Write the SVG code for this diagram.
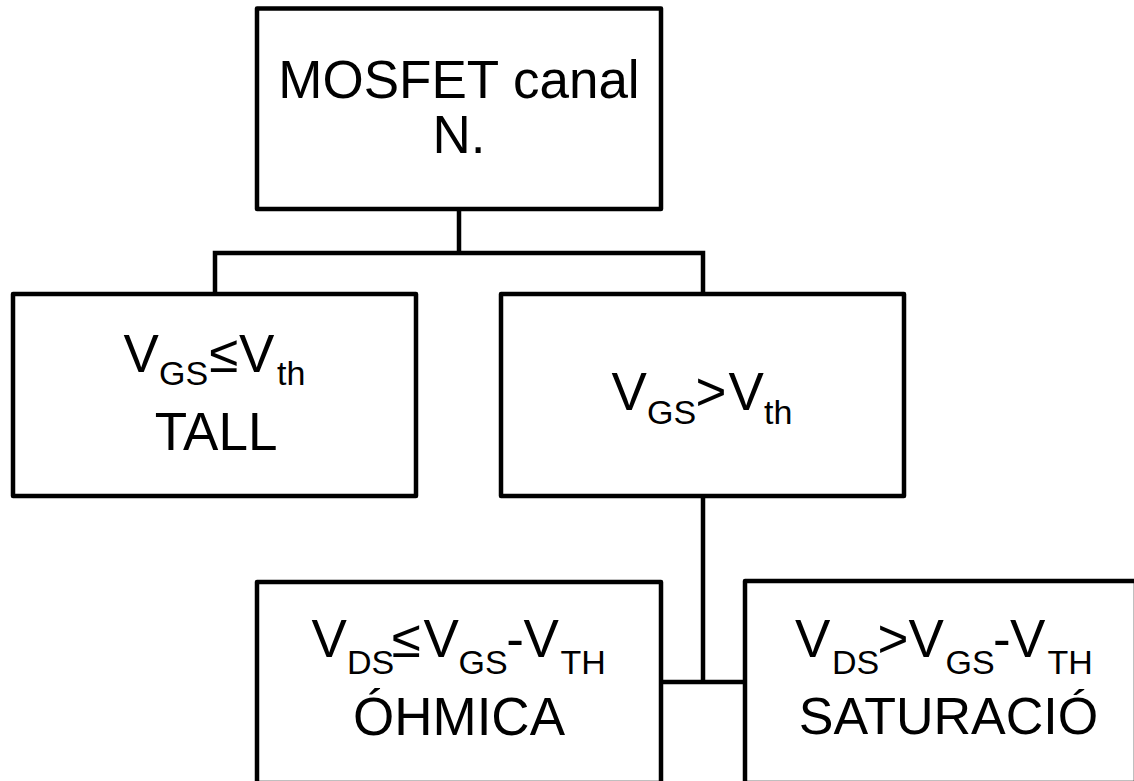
<svg xmlns="http://www.w3.org/2000/svg" width="1134" height="781" viewBox="0 0 1134 781">
<style>
.box{fill:#fff;stroke:#000;stroke-width:4.5;stroke-linejoin:round}
.ln{fill:none;stroke:#000;stroke-width:4.5}
.t{font-family:"Liberation Sans",Arial,sans-serif;font-size:53px;fill:#000}
.s{font-size:34px}
</style>
<rect width="1134" height="781" fill="#fff"/>
<g id="connectors">
<path class="ln" d="M459 211V253"/>
<path class="ln" d="M215 294V253H703V294"/>
<path class="ln" d="M703 496V682"/>
<path class="ln" d="M661 682H745"/>
</g>
<g id="n-mosfet">
<rect class="box" x="257" y="8.5" width="404" height="200.5"/>
<text class="t" text-anchor="middle"><tspan x="459" y="97.5">MOSFET canal</tspan><tspan x="459" y="153">N.</tspan></text>
</g>
<g id="n-tall">
<rect class="box" x="13" y="294" width="403" height="202"/>
<text class="t"><tspan x="123.5" y="372">V</tspan><tspan class="s" x="159" y="384.5">GS</tspan><tspan x="209" y="372">≤</tspan><tspan x="239" y="372">V</tspan><tspan class="s" x="277" y="384.5">th</tspan></text>
<text class="t" text-anchor="middle" x="216" y="449.5">TALL</text>
</g>
<g id="n-on">
<rect class="box" x="501" y="294" width="403" height="202"/>
<text class="t"><tspan x="611.5" y="410">V</tspan><tspan class="s" x="647" y="423.5">GS</tspan><tspan x="695.5" y="410">&gt;</tspan><tspan x="728.5" y="410">V</tspan><tspan class="s" x="764" y="423.5">th</tspan></text>
</g>
<g id="n-ohmica">
<rect class="box" x="257" y="582" width="404" height="201"/>
<text class="t"><tspan x="311.5" y="657">V</tspan><tspan class="s" x="347" y="673.5">DS</tspan><tspan x="391.5" y="657">≤</tspan><tspan x="423.5" y="657">V</tspan><tspan class="s" x="458.5" y="673.5">GS</tspan><tspan x="506.3" y="657">-</tspan><tspan x="523.5" y="657">V</tspan><tspan class="s" x="560.5" y="673.5">TH</tspan></text>
<text class="t" text-anchor="middle" x="459" y="735">ÓHMICA</text>
</g>
<g id="n-saturacio">
<rect class="box" x="745" y="581" width="391" height="202"/>
<text class="t"><tspan x="795" y="657">V</tspan><tspan class="s" x="832" y="673.5">DS</tspan><tspan x="877.5" y="657">&gt;</tspan><tspan x="908.5" y="657">V</tspan><tspan class="s" x="945.5" y="673.5">GS</tspan><tspan x="993" y="657">-</tspan><tspan x="1010" y="657">V</tspan><tspan class="s" x="1047.5" y="673.5">TH</tspan></text>
<text class="t" text-anchor="middle" x="948.5" y="733.5" style="font-size:52px">SATURACIÓ</text>
</g>
</svg>
